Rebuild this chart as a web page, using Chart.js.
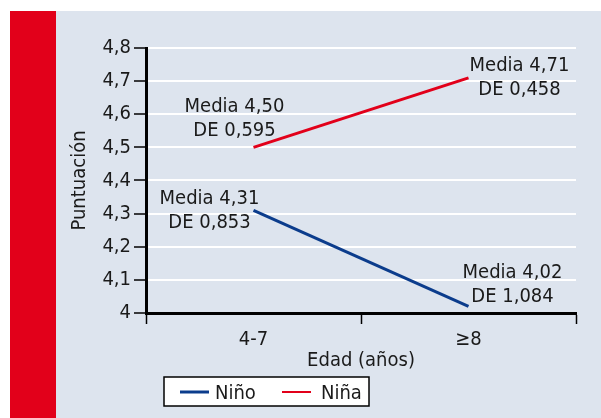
<!DOCTYPE html>
<html>
<head>
<meta charset="utf-8">
<script src="https://cdn.jsdelivr.net/npm/chart.js@4/dist/chart.umd.min.js"></script>
<style>
  html, body { margin: 0; padding: 0; background: #fff; }
  #wrap { width: 601px; height: 418px; }
</style>
</head>
<body>
<div id="wrap"><canvas id="myChart" width="601" height="418"></canvas></div>
<script>
let edades = ["4-7", "≥8"];
let nino = [4.31, 4.02];
let nina = [4.50, 4.71];
let ninoDE = [0.853, 1.084];
let ninaDE = [0.595, 0.458];
let yTicks = [4, 4.1, 4.2, 4.3, 4.4, 4.5, 4.6, 4.7, 4.8];

let FONT = "'Liberation Sans Narrow', 'DejaVu Sans Condensed', sans-serif";
let FS = 20;
let azul = "#0b3c8c";
let rojo = "#e2001a";

// where each "Media / DE" label sits relative to its point (px)
let offsetsNino = [[-44, -6], [44, -28]];
let offsetsNina = [[-19, -35], [51, -7]];

function coma(v, d) {
  return v.toFixed(d).replace(".", ",");
}

let fondo = {
  id: "fondo",
  beforeDraw(chart) {
    let ctx = chart.ctx;
    ctx.save();
    ctx.fillStyle = "#fff";
    ctx.fillRect(0, 0, chart.width, chart.height);
    ctx.fillStyle = "#dde4ee";
    ctx.fillRect(56, 11, chart.width - 56, chart.height - 11);
    ctx.fillStyle = rojo;
    ctx.fillRect(10, 11, 46, chart.height - 11);
    ctx.restore();
  }
};

let etiquetas = {
  id: "etiquetas",
  afterDraw(chart) {
    let ctx = chart.ctx;
    ctx.save();
    ctx.font = FS + "px " + FONT;
    ctx.fillStyle = "#1a1a1a";
    ctx.textAlign = "center";
    ctx.textBaseline = "alphabetic";
    chart.data.datasets.forEach((ds, i) => {
      let meta = chart.getDatasetMeta(i);
      meta.data.forEach((pt, j) => {
        let off = ds.offs[j];
        let x = pt.x + off[0];
        let y = pt.y + off[1];
        ctx.fillText("Media " + coma(ds.data[j], 2), x, y);
        ctx.fillText("DE " + coma(ds.sd[j], 3), x, y + 24);
      });
    });

    // legend box
    let bx = 164, by = 377, bw = 205, bh = 29;
    ctx.fillStyle = "#fff";
    ctx.fillRect(bx, by, bw, bh);
    ctx.strokeStyle = "#000";
    ctx.lineWidth = 1.5;
    ctx.strokeRect(bx, by, bw, bh);
    let items = [[180, 215], [282, 321]];
    ctx.textAlign = "left";
    chart.data.datasets.forEach((ds, i) => {
      let it = items[i];
      ctx.strokeStyle = ds.borderColor;
      ctx.lineWidth = i == 0 ? 3 : 2;
      ctx.beginPath();
      ctx.moveTo(it[0], 392);
      ctx.lineTo(it[0] + 29, 392);
      ctx.stroke();
      ctx.fillStyle = "#1a1a1a";
      ctx.fillText(ds.label, it[1], 399);
    });
    ctx.restore();
  }
};

let ctx = document.getElementById("myChart").getContext("2d");
let chart = new Chart(ctx, {
  type: "line",
  data: {
    labels: edades,
    datasets: [
      { label: "Niño", data: nino, sd: ninoDE, offs: offsetsNino, borderColor: azul, borderWidth: 3, pointRadius: 0 },
      { label: "Niña", data: nina, sd: ninaDE, offs: offsetsNina, borderColor: rojo, borderWidth: 3, pointRadius: 0 }
    ]
  },
  options: {
    responsive: false,
    animation: false,
    layout: { padding: { left: 56, top: 48, right: 25, bottom: 43 } },
    plugins: { legend: { display: false }, tooltip: { enabled: false } },
    scales: {
      x: {
        offset: true,
        afterFit(s) { s.height = 62; },
        grid: { drawOnChartArea: false, tickLength: 11, tickColor: "#000", tickWidth: 1.5, offset: true },
        border: { color: "#000", width: 3 },
        ticks: { color: "#1a1a1a", font: { family: FONT, size: FS }, padding: 4 },
        title: { display: true, text: "Edad (años)", color: "#1a1a1a", font: { family: FONT, size: FS }, padding: { top: 0, bottom: 2 } }
      },
      y: {
        min: 4,
        max: 4.8,
        afterFit(s) { s.width = 90; },
        afterBuildTicks(s) { s.ticks = yTicks.map(v => ({ value: v })); },
        grid: {
          color: c => (c.tick && c.tick.value == 4 ? "rgba(0,0,0,0)" : "#fff"),
          lineWidth: 2,
          tickLength: 12,
          tickColor: "#000",
          tickWidth: 1.5
        },
        border: { color: "#000", width: 3 },
        ticks: {
          color: "#1a1a1a",
          font: { family: FONT, size: FS },
          padding: 3,
          callback: v => (v == 4 ? "4" : coma(v, 1))
        },
        title: { display: true, text: "Puntuación", color: "#1a1a1a", font: { family: FONT, size: FS }, padding: { top: 12, bottom: 0 } }
      }
    }
  },
  plugins: [fondo, etiquetas]
});
</script>
</body>
</html>
